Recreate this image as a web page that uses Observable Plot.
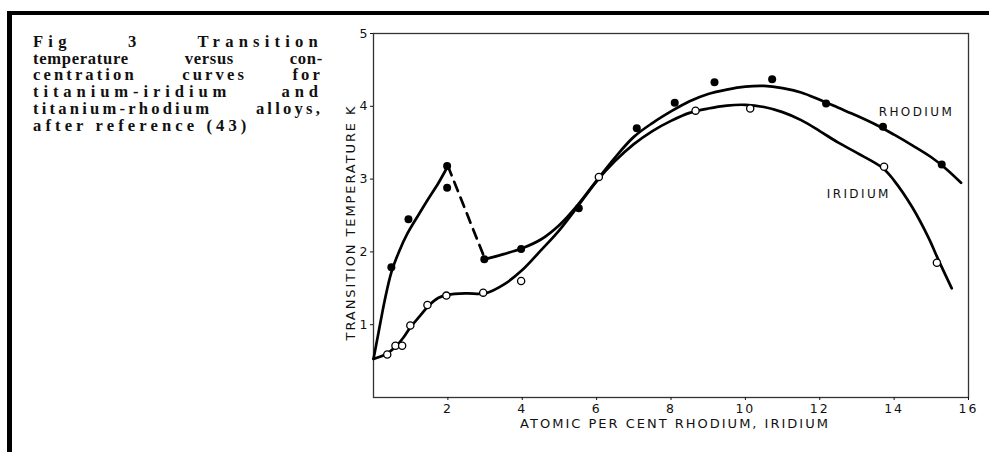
<!DOCTYPE html>
<html>
<head>
<meta charset="utf-8">
<script src="https://cdn.jsdelivr.net/npm/d3@7"></script>
<script src="https://cdn.jsdelivr.net/npm/@observablehq/plot@0.6"></script>
<style>
  html, body { margin: 0; padding: 0; background: #fff; }
  #wrap { position: relative; width: 989px; height: 452px; overflow: hidden; background: #fff; }
  #border { position: absolute; left: 7px; top: 11px; right: -10px; bottom: -10px;
            border-top: 4px solid #000; border-left: 5px solid #000; }
  #caption { position: absolute; left: 33px; top: 34px; width: 290px;
             font-family: "Liberation Serif", "Times New Roman", serif; font-weight: bold; font-size: 16.6px;
             line-height: 16.7px; color: #111; }
  #caption div { text-align: justify; text-align-last: justify; white-space: normal; }
  #caption div.last { text-align-last: left; }
  #plot { position: absolute; left: 0; top: 0; }
</style>
</head>
<body>
<div id="wrap">
  <div id="border"></div>
  <div id="plot"></div>
  <div id="caption"></div>
</div>
<script>
// Caption lines
const captionLines = [
  "Fig 3 Transition",
  "temperature versus con-",
  "centration curves for",
  "titanium-iridium and",
  "titanium-rhodium alloys,",
  "after reference (43)"
];
const captionSpacing = [5.2, 0.7, 3.1, 4.9, 3.2, 4.1];

// Measured points: rhodium (filled)
const rhX = [0.48, 0.94, 1.98, 1.98, 2.98, 3.97, 5.52, 7.08, 8.1, 9.17, 10.72, 12.17, 13.7, 15.28];
const rhY = [1.79, 2.45, 3.18, 2.88, 1.9, 2.04, 2.6, 3.7, 4.05, 4.33, 4.37, 4.04, 3.72, 3.2];

// Measured points: iridium (open)
const irX = [0.37, 0.59, 0.77, 0.99, 1.45, 1.96, 2.95, 3.97, 6.06, 8.66, 10.13, 13.73, 15.15];
const irY = [0.59, 0.71, 0.71, 0.99, 1.27, 1.4, 1.44, 1.6, 3.03, 3.94, 3.97, 3.17, 1.85];

// Drawn curves
const rhCurveAX = [0, 0.12, 0.3, 0.48, 0.7, 0.91, 1.2, 1.45, 1.75, 2.0];
const rhCurveAY = [0.53, 0.85, 1.33, 1.72, 2.02, 2.25, 2.5, 2.71, 2.95, 3.18];

const rhDashX = [2.0, 3.0];
const rhDashY = [3.18, 1.9];

const rhCurveBX = [3.0, 3.5, 4.0, 4.5, 5.0, 5.5, 6.0, 6.5, 7.0, 7.5, 8.0, 8.5, 9.0, 9.5, 10.0, 10.5, 11.0, 11.5, 12.0, 12.5, 13.0, 13.5, 14.0, 14.5, 15.0, 15.4, 15.8];
const rhCurveBY = [1.9, 1.97, 2.05, 2.17, 2.37, 2.65, 2.98, 3.3, 3.58, 3.77, 3.93, 4.07, 4.17, 4.23, 4.27, 4.28, 4.25, 4.19, 4.09, 3.98, 3.87, 3.75, 3.61, 3.46, 3.3, 3.14, 2.95];

const irCurveX = [0, 0.35, 0.6, 0.8, 1.0, 1.25, 1.5, 1.75, 2.0, 2.5, 3.0, 3.5, 4.0, 4.5, 5.0, 5.5, 6.0, 6.5, 7.0, 7.5, 8.0, 8.5, 9.0, 9.5, 10.0, 10.5, 11.0, 11.5, 12.0, 12.5, 13.0, 13.7, 14.0, 14.48, 14.93, 15.2, 15.55];
const irCurveY = [0.53, 0.6, 0.7, 0.82, 0.97, 1.12, 1.27, 1.37, 1.41, 1.43, 1.43, 1.55, 1.75, 2.02, 2.3, 2.63, 2.97, 3.25, 3.48, 3.66, 3.8, 3.91, 3.97, 4.01, 4.02, 3.99, 3.92, 3.81, 3.66, 3.5, 3.36, 3.15, 2.98, 2.62, 2.19, 1.88, 1.5];

// Curve labels
const curveLabels = ["RHODIUM", "IRIDIUM"];
const curveLabelX = [14.6, 13.05];
const curveLabelY = [3.92, 2.79];

// Axis ticks and titles
const xTicks = [2, 4, 6, 8, 10, 12, 14, 16];
const yTicks = [1, 2, 3, 4, 5];
const xTitle = "ATOMIC PER CENT RHODIUM, IRIDIUM";
const yTitle = "TRANSITION TEMPERATURE K";

// Build tables
const zip = (xs, ys) => xs.map((x, i) => ({x, y: ys[i]}));
const rhPts = zip(rhX, rhY);
const irPts = zip(irX, irY);
const rhA = zip(rhCurveAX, rhCurveAY);
const rhD = zip(rhDashX, rhDashY);
const rhB = zip(rhCurveBX, rhCurveBY);
const irC = zip(irCurveX, irCurveY);
const labs = curveLabels.map((t, i) => ({t, x: curveLabelX[i], y: curveLabelY[i]}));

const cap = document.getElementById("caption");
captionLines.forEach((s, i) => {
  const d = document.createElement("div");
  d.textContent = s;
  d.style.letterSpacing = captionSpacing[i] + "px";
  if (i === captionLines.length - 1) d.className = "last";
  cap.appendChild(d);
});

const sans = "'DejaVu Sans', sans-serif";
const chart = Plot.plot({
  width: 989,
  height: 452,
  marginLeft: 373,
  marginRight: 21,
  marginTop: 33,
  marginBottom: 55,
  style: {fontFamily: sans, fontSize: "12px", color: "#111", background: "transparent", overflow: "visible"},
  x: {domain: [0, 16]},
  y: {domain: [0, 5]},
  marks: [
    Plot.frame({stroke: "#333", strokeWidth: 1.3}),
    Plot.axisX({ticks: xTicks, tickSize: 3, tickPadding: 4, tickFormat: d3.format("d"),
      label: null, fontSize: 12.5}),
    Plot.axisY({ticks: yTicks, tickSize: 3, tickPadding: 3, tickFormat: d3.format("d"),
      label: null, fontSize: 12.5}),
    Plot.text([xTitle], {frameAnchor: "bottom", dy: 30, dx: 4, fontSize: 13, fill: "#111"}),
    Plot.text([yTitle], {frameAnchor: "left", textAnchor: "middle", rotate: -90, dx: -23, dy: 7,
      fontSize: 13, fill: "#111"}),
    Plot.line(rhA, {x: "x", y: "y", curve: "catmull-rom", stroke: "#000", strokeWidth: 2.7}),
    Plot.line(rhD, {x: "x", y: "y", stroke: "#000", strokeWidth: 2.7, strokeDasharray: "10,7"}),
    Plot.line(rhB, {x: "x", y: "y", curve: "catmull-rom", stroke: "#000", strokeWidth: 2.7}),
    Plot.line(irC, {x: "x", y: "y", curve: "catmull-rom", stroke: "#000", strokeWidth: 2.7}),
    Plot.dot(rhPts, {x: "x", y: "y", r: 4, fill: "#000", stroke: "none"}),
    Plot.dot(irPts, {x: "x", y: "y", r: 3.6, fill: "#fff", stroke: "#000", strokeWidth: 1.3}),
    Plot.text(labs, {x: "x", y: "y", text: "t", fontSize: 12, fill: "#111"})
  ]
});

// Letter-spacing of the lettering (styling only)
d3.select(chart).selectAll("text").each(function() {
  const t = this.textContent;
  let ls = null;
  if (t === xTitle) ls = "2px";
  else if (t === yTitle) ls = "1.9px";
  else if (curveLabels.includes(t)) ls = "2.4px";
  else {
    const g = this.closest("g[aria-label]");
    if (g && g.getAttribute("aria-label").startsWith("x-axis")) ls = "2px";
  }
  if (ls) this.style.letterSpacing = ls;
});

document.getElementById("plot").appendChild(chart);
</script>
</body>
</html>
